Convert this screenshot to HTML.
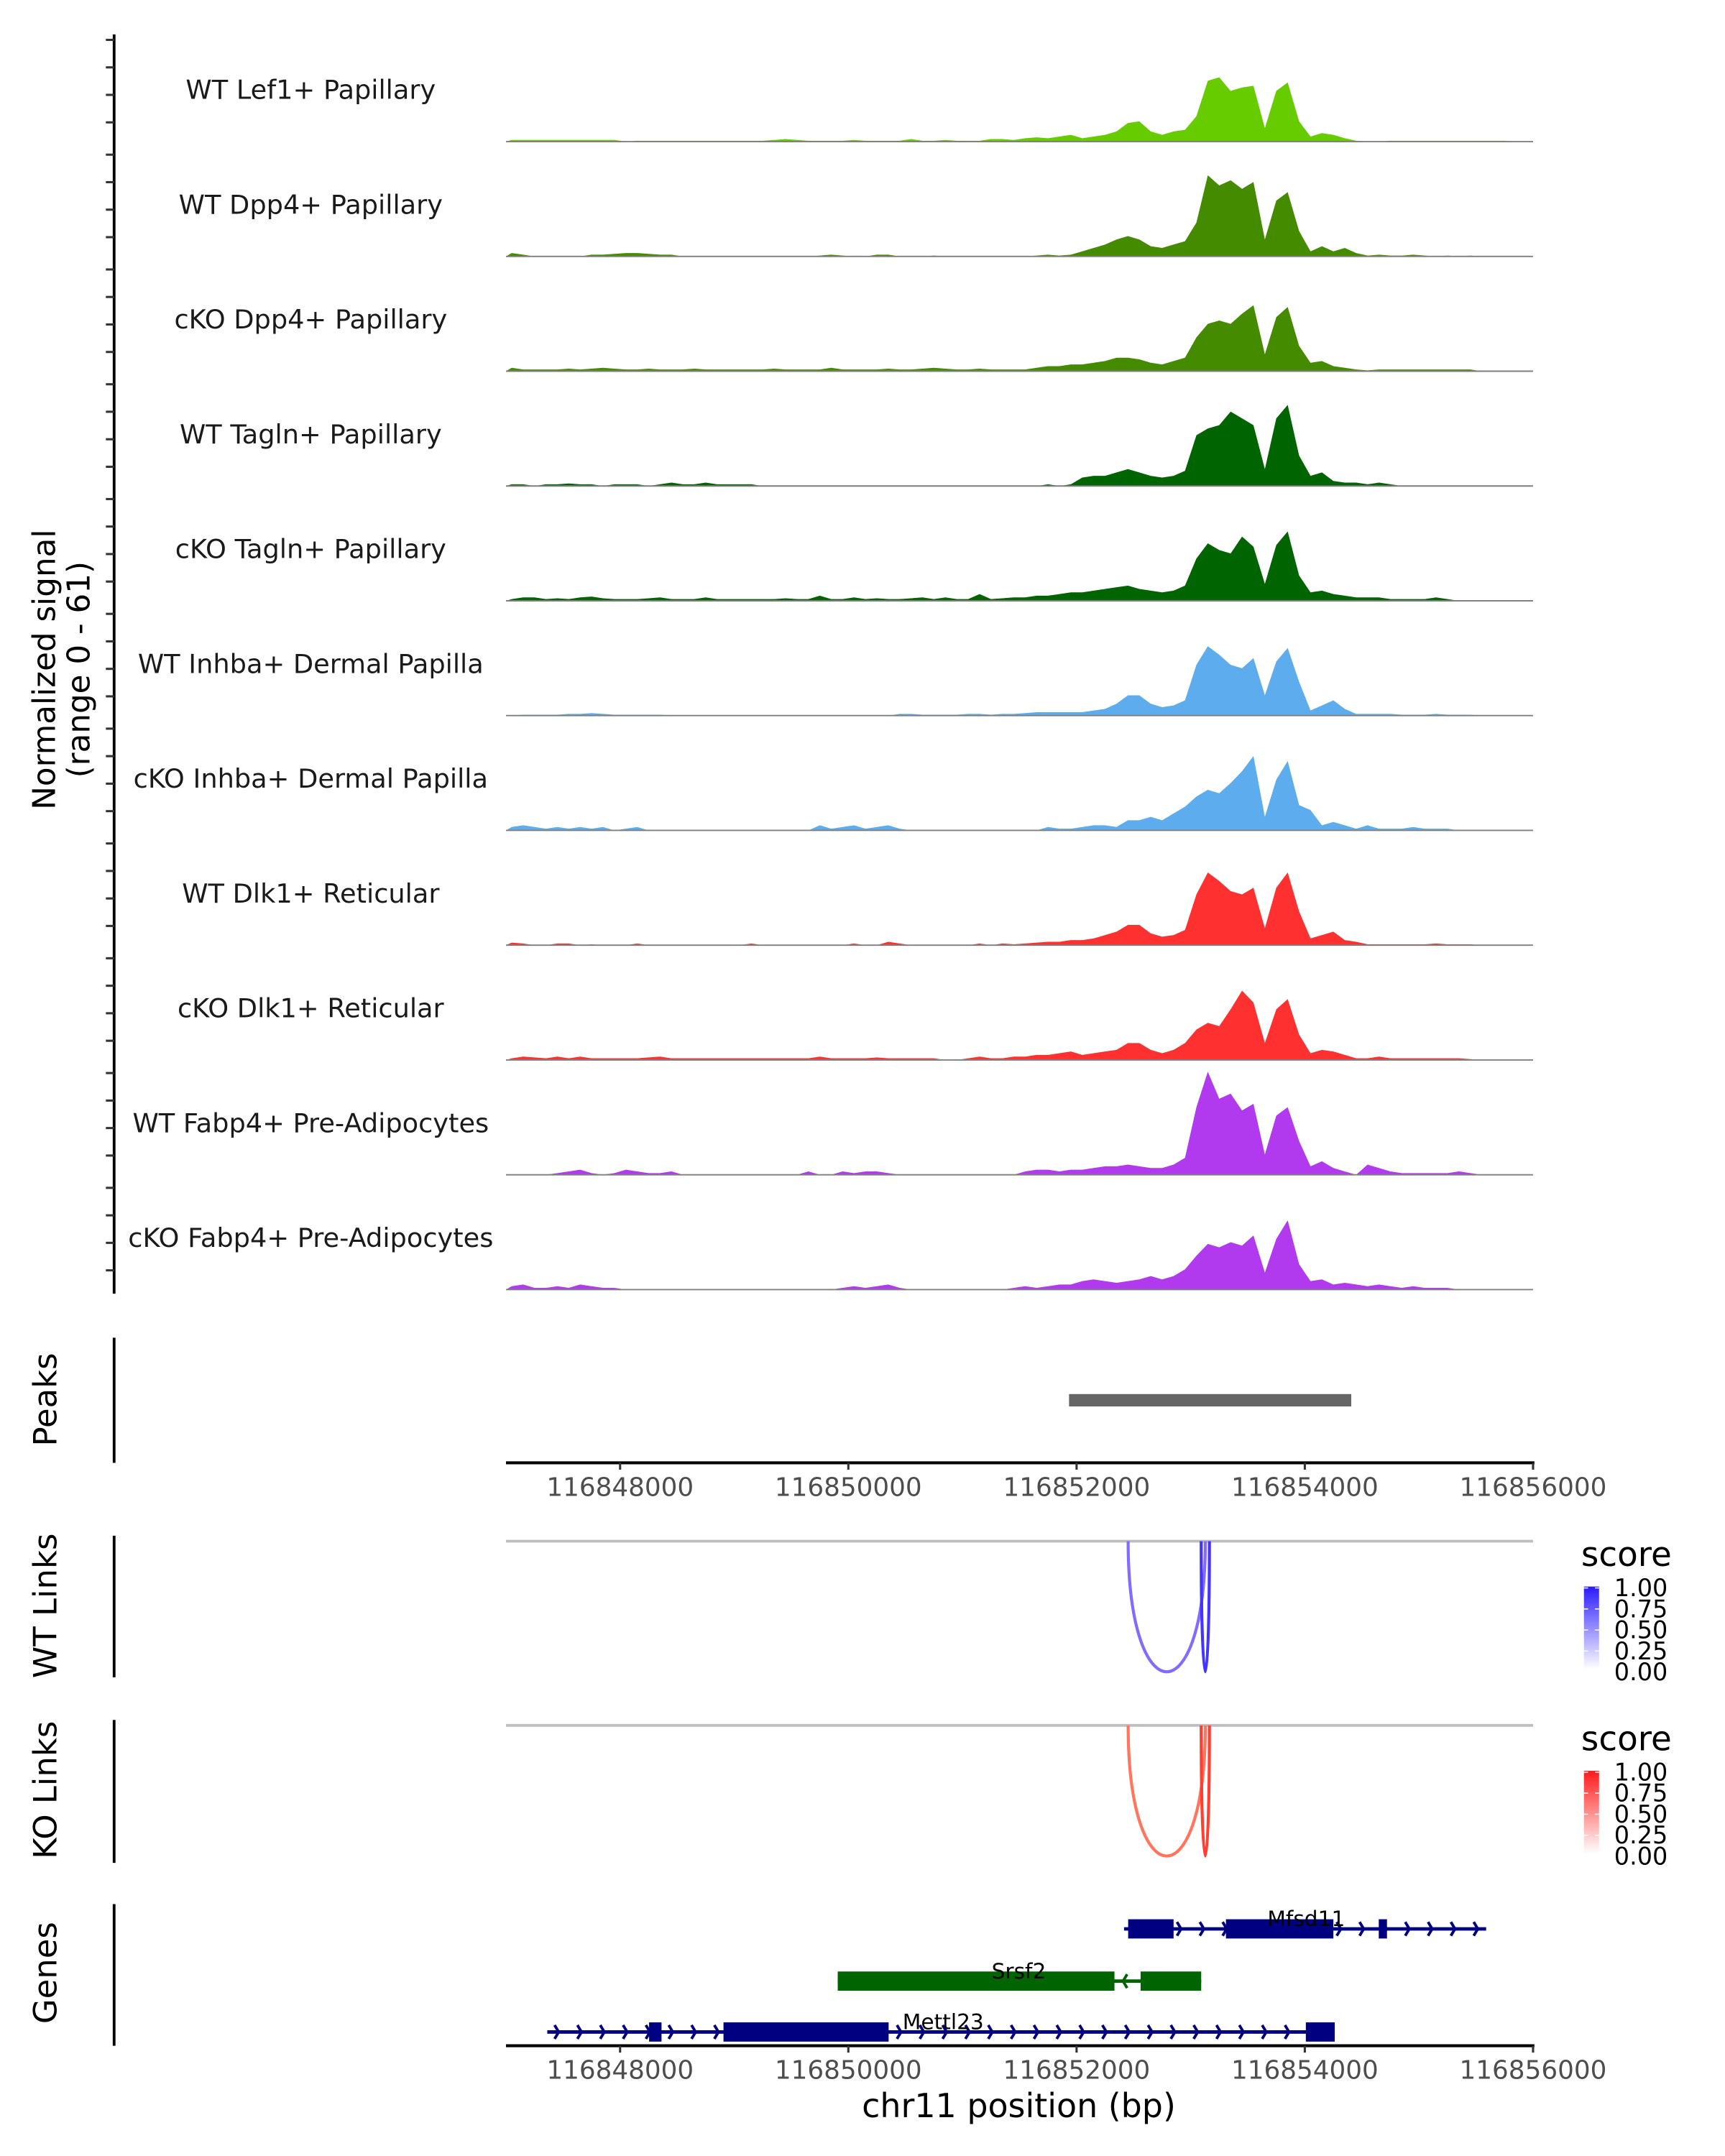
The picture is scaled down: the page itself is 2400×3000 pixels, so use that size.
<!DOCTYPE html>
<html><head><meta charset="utf-8">
<style>
html,body{margin:0;padding:0;background:#fff;}
svg{display:block;font-family:"DejaVu Sans","Liberation Sans",sans-serif;}
</style></head>
<body>
<svg id="chart" width="2400" height="3000" viewBox="0 0 1254.6 1568.2" preserveAspectRatio="none" xmlns="http://www.w3.org/2000/svg">
<defs>
<linearGradient id="gBlue" x1="0" y1="1" x2="0" y2="0"><stop offset="0" stop-color="#ffffff"/><stop offset="1" stop-color="#2a1aff"/></linearGradient>
<linearGradient id="gRed" x1="0" y1="1" x2="0" y2="0"><stop offset="0" stop-color="#ffffff"/><stop offset="1" stop-color="#ff1a1a"/></linearGradient>
</defs>
<g id="layer"></g>
</svg>
<script>
// ---- data ----
const regionStart = 116847000;
const regionEnd = 116856000;
const binSize = 100;
const xTicks = [116848000, 116850000, 116852000, 116854000, 116856000];
const trackNames = ["WT Lef1+ Papillary","WT Dpp4+ Papillary","cKO Dpp4+ Papillary","WT Tagln+ Papillary","cKO Tagln+ Papillary","WT Inhba+ Dermal Papilla","cKO Inhba+ Dermal Papilla","WT Dlk1+ Reticular","cKO Dlk1+ Reticular","WT Fabp4+ Pre-Adipocytes","cKO Fabp4+ Pre-Adipocytes"];
const trackColors = ["#66CC00","#458B00","#458B00","#006400","#006400","#5CACEE","#5CACEE","#FF3030","#FF3030","#B23AEE","#B23AEE"];
const yMax = 61;
const bg1 = [1,1,1,1,1,1,1,1,1,1,0,0.5,0.5,0.5,0.5,0.5,0.5,0.5,0.5,0.5,0.5,0.5,0.5,1,1.5,1,0.5,0.5,0.5,0.5,1,0.5,0.5,0.5,0.5,1.5,0.5,0.5,1,0.5,0.5,0.5,1.5,1.5,1,2,2.5,2,3,4];
const pk1 = [2,3,4,6,11,12,6,4,6,7,15,36,38,30,32,33,8,30,35,12,3,5,4,2,0.5,0,0,0.5,0.5,0.5,0.5,0.5,0.5,0.5,0.5,0.5,0.5,0.5,0,0];
const bg2 = [2,1,0,0,0,0,0,1,1,1.5,2,2,1.5,1,1,0,0,0,0,0,0,0,0,0,0,0,0,0.5,1,0.5,0,0,1,1,0,0,0,0.5,0,0,0,0,0,0,0,0,0.5,1,0.5,1];
const pk2 = [3,5,7,10,12,10,6,5,7,9,20,48,42,45,40,44,10,33,38,15,3,6,3,5,2,0.5,1,0.5,0.5,1,0.5,0,0.5,0,0.5,0,0,0,0,0];
const bg3 = [2,1,1,1,1,1.5,1,1.5,2,1.5,1,1,1.5,1,1,1,1.5,1,1,1,1,1,1,1.5,1,1,1,1,2,1,1,1,1,1.5,1,1,1.5,2,1.5,1,1,1.5,1,1,1,1,2,3,3,4];
const pk3 = [4,5,6,8,8,7,5,4,6,8,20,28,30,28,34,39,10,32,38,15,5,6,3,2,1,0.5,1,1,1,1,1,1,1,1,1,0,0,0,0,0];
const bg4 = [1,1,0,1,1,1.5,1,1,0,1,1,1,0,1,2,1,1,2,1,1,1,1,0,0,0,0,0,0,0,0,0,0,0,0,0,0,0,0,0,0,0,0,0,0,0,0,0,1,0,1];
const pk4 = [5,6,6,8,10,8,6,5,6,9,30,34,36,44,40,36,10,40,48,18,6,8,3,2,2,1,2,1,0,0,0,0,0,0,0,0,0,0,0,0];
const bg5 = [1,2,2,1,1.5,1,2,2.5,1.5,1,1,1,1.5,2,1,1,1,2,1,1,1,1,1,1,1.5,1,1,3,1,1,2,1,1.5,1,1,1.5,2,1,2,1,1,4,1,1.5,2,2,3,3,4,5];
const pk5 = [5,6,7,8,9,7,6,5,6,9,25,34,30,28,38,32,10,33,41,15,5,6,4,3,2,2,2,1,1,1,1,2,1,0,0,0,0,0,0,0];
const bg6 = [0,0.5,0.5,0.5,0.5,1,1,1.5,1,0.5,0.5,0.5,0.5,0.5,0,0,0,0,0,0,0,0,0,0,0,0,0,0,0,0,0,0,0,0,1,1,0.5,0.5,0.5,0.5,1,1,0.5,1,1,1.5,2,2,2,2];
const pk6 = [2,3,4,7,12,12,7,5,6,9,30,41,36,30,28,34,12,32,40,20,3,6,9,4,1,1,1,1,0.5,0.5,0.5,1,0.5,0.5,0.5,0,0,0,0,0];
const bg7 = [2,3,2,1,2,1,2,1,2,0,1,2,0,0,0,0,0,0,0,0,0,0,0,0,0,0,0,3,1,2,3,1,2,3,1,0,0,0,0,0,0,0,0,0,0,0,0,2,1,1];
const pk7 = [2,3,3,2,6,6,8,6,10,14,20,24,22,28,35,44,8,30,41,15,12,3,5,3,1,3,1,1,1,2,1,1,1,0,0,0,0,0,0,0];
const bg8 = [1.5,1,0,0,1,1,0,0.5,0,0,0,1,0,0,0,0,0,0,0,0,0,1,0,0,0,0,0,0,0,0,1,0,0,2,1,0,0,0,0,0,0,1,0,1,0.5,1,1.5,2,2,3];
const pk8 = [3,4,6,8,12,12,7,5,6,9,30,43,38,32,30,34,10,34,43,20,4,6,8,3,2,0.5,0.5,0.5,0.5,0.5,0.5,1,0.5,0.5,0.5,0,0,0,0,0];
const bg9 = [1,2,1.5,1,2,1,2,1,1,1,1,1,1.5,2,1,1,1,1,1,1,1,1,1,1,1,1,1,2,1,1,1,1,1.5,1,1,1,1,1,0,0,1,2,1,1,2,2,3,3,4,5];
const pk9 = [3,4,5,6,10,10,6,4,6,10,18,22,20,30,41,34,10,30,36,15,4,6,5,3,1,1,2,1,1,1,1,1,1,1,0.5,0,0,0,0,0];
const bg10 = [0,0,0,0,1,2,3,1,0,1,3,2,1,1,2,0,0,0,0,0,0,0,0,0,0,0,2,0,0,2,1,2,2,1,0,0,0,0,0,0,0,0,0,0,0,2,3,3,2,3];
const pk10 = [3,4,5,5,6,5,4,4,6,10,40,61,45,48,38,42,12,35,40,20,5,8,4,2,0,6,4,2,1,1,1,1,1,2,1,0,0,0,0,0];
const bg11 = [2,3,1,1,2,1,3,2,1,1,0,0,0,0,0,0,0,0,0,0,0,0,0,0,0,0,0,0,0,1,2,1,2,3,1,0,0,0,0,0,0,0,0,0,1,2,1,2,3,3];
const pk11 = [5,6,5,4,5,6,8,6,8,12,20,27,25,28,26,32,10,30,41,15,5,6,3,4,3,2,3,2,1,2,1,1,1,0,0,0,0,0,0,0];
const bgArrays = [bg1,bg2,bg3,bg4,bg5,bg6,bg7,bg8,bg9,bg10,bg11];
const pkArrays = [pk1,pk2,pk3,pk4,pk5,pk6,pk7,pk8,pk9,pk10,pk11];
const peakStart = [116851934];
const peakEnd = [116854407];
const wtLinkStart = [116852452, 116853092];
const wtLinkEnd = [116853128, 116853164];
const wtLinkScore = [0.5, 0.85];
const koLinkStart = [116852452, 116853092];
const koLinkEnd = [116853128, 116853164];
const koLinkScore = [0.5, 0.85];
const legendTicks = ["1.00","0.75","0.50","0.25","0.00"];
const geneNames = ["Mfsd11","Srsf2","Mettl23"];
const geneStart = [116852416, 116849907, 116847362];
const geneEnd = [116855589, 116853092, 116854262];
const geneStrand = [1, -1, 1];
const geneColor = ["#000080","#006400","#000080"];
const exonStarts = [[116852452,116853309,116854648],[116849907,116852561],[116848254,116848906,116854009]];
const exonEnds = [[116852850,116854250,116854720],[116852332,116853092],[116848363,116850353,116854262]];

// ---- scales ----
const X0 = 368, X1 = 1115;
function xs(bp){ return X0 + (bp - regionStart) / (regionEnd - regionStart) * (X1 - X0); }
const NS = "http://www.w3.org/2000/svg";
const layer = document.getElementById('layer');
function mk(tag, attrs, parent){ const e = document.createElementNS(NS, tag); for (const k in attrs) e.setAttribute(k, attrs[k]); (parent||layer).appendChild(e); return e; }

// ---- coverage tracks ----
const base0 = 103, trackGap = 83.5, pxPerUnit = 75 / yMax;
mk('line',{x1:83,y1:25,x2:83,y2:941,stroke:'#000','stroke-width':2});
const yAxis = layer.lastChild;


for (let i = 0; i < trackNames.length; i++) {
  const b = base0 + i * trackGap;
  const vals = bgArrays[i].concat(pkArrays[i]);
  let d = 'M' + xs(regionStart).toFixed(2) + ',' + b;
  for (let j = 0; j < vals.length; j++) {
    const x = xs(regionStart + binSize * j + binSize / 2);
    d += ' L' + x.toFixed(2) + ',' + (b - vals[j] * pxPerUnit).toFixed(2);
  }
  d += ' L' + xs(regionEnd).toFixed(2) + ',' + b + ' Z';
  const p = mk('path',{d:d, fill:trackColors[i]});
  
  
  const bl = mk('line',{x1:X0,y1:b,x2:X1,y2:b,stroke:'#7f7f7f','stroke-width':1});
  
  
  const t = mk('text',{x:226,y:b-31,'text-anchor':'middle','font-size':19.2,fill:'#1a1a1a'});
  t.textContent = trackNames[i];
  
  
  const tickOffs = [80, 60, 40, 20];
  for (const o of tickOffs) {
    const tk = mk('line',{x1:77,y1:b-o+6,x2:83,y2:b-o+6,stroke:'#333','stroke-width':1.6});
    
    
  }
}
const yl = mk('text',{transform:'translate(40,487) rotate(-90)','text-anchor':'middle','font-size':22.8,fill:'#000'});


const ts1 = mk('tspan',{x:0,y:0},yl); ts1.textContent = 'Normalized signal';
const ts2 = mk('tspan',{x:0,y:25},yl); ts2.textContent = '(range 0 - 61)';

// ---- side labels ----
function sideLabel(txt, y, y1, y2, name){
  const t = mk('text',{transform:'translate(41,'+y+') rotate(-90)','text-anchor':'middle','font-size':23.5,fill:'#000'});
  t.textContent = txt;
  
  
  const l = mk('line',{x1:83,y1:y1,x2:83,y2:y2,stroke:'#000','stroke-width':2});
  
  
}
sideLabel('Peaks', 1018, 973, 1064, 'peaks-label');
sideLabel('WT Links', 1168, 1117, 1220, 'wt-links-label');
sideLabel('KO Links', 1302, 1251, 1355, 'ko-links-label');
sideLabel('Genes', 1435, 1385, 1488, 'genes-label');

// ---- peaks ----
for (let i = 0; i < peakStart.length; i++) {
  const r = mk('rect',{x:xs(peakStart[i]),y:1014,width:xs(peakEnd[i])-xs(peakStart[i]),height:9,fill:'#666666'});
  
  
}

// ---- x axes ----
function xAxis(y, name){
  const l = mk('line',{x1:X0,y1:y,x2:X1+1,y2:y,stroke:'#000','stroke-width':2.2});
  
  
  for (const t of xTicks) {
    const tk = mk('line',{x1:xs(t),y1:y,x2:xs(t),y2:y+5,stroke:'#333','stroke-width':1.6});
    
    
    const tl = mk('text',{x:xs(t),y:y+24,'text-anchor':'middle','font-size':18.7,fill:'#4d4d4d'});
    tl.textContent = String(t);
    
    
  }
}
xAxis(1064, 'peaks-x-axis');
xAxis(1488, 'genes-x-axis');
const xt = mk('text',{x:741,y:1540,'text-anchor':'middle','font-size':24,fill:'#000'});
xt.textContent = 'chr11 position (bp)';



// ---- links ----
function links(top, bottom, starts, ends, scores, colHi, grad, name){
  const gl = mk('line',{x1:X0,y1:top,x2:X1,y2:top,stroke:'#bebebe','stroke-width':2});
  
  
  for (let i = 0; i < starts.length; i++) {
    const a = xs(starts[i]), b = xs(ends[i]);
    const yc = top + (bottom - top) / 0.75;
    const c = colHi(scores[i]);
    const p = mk('path',{d:'M'+a+','+top+' C'+a+','+yc+' '+b+','+yc+' '+b+','+top,fill:'none',stroke:c,'stroke-width':2.2});
    
    
  }
  const ly = top + 11;
  const st = mk('text',{x:1150,y:ly+7,'font-size':24.5,fill:'#000'});
  st.textContent = 'score';
  
  
  const bar = mk('rect',{x:1152,y:ly+22,width:11,height:60,fill:'url(#'+grad+')'});
  
  
  for (let k = 0; k < legendTicks.length; k++) {
    const yy = ly + 23 + k * 15.3;
    const tx = mk('text',{x:1174,y:yy+6,'font-size':17.5,fill:'#000'});
    tx.textContent = legendTicks[k];
    
    
    mk('line',{x1:1152,y1:yy,x2:1155,y2:yy,stroke:'#fff','stroke-width':0.8});
    mk('line',{x1:1160,y1:yy,x2:1163,y2:yy,stroke:'#fff','stroke-width':0.8});
  }
}
function blueCol(s){ const v = Math.round(255*(1-s)); return 'rgb('+Math.round(v*0.7+40)+','+Math.round(v*0.6+30)+',255)'; }
function redCol(s){ const v = Math.round(255*(1-s)); return 'rgb(255,'+Math.round(v*0.6+40)+','+Math.round(v*0.5+30)+')'; }
links(1121, 1216, wtLinkStart, wtLinkEnd, wtLinkScore, blueCol, 'gBlue', 'wt-links');
links(1255, 1350, koLinkStart, koLinkEnd, koLinkScore, redCol, 'gRed', 'ko-links');

// ---- genes ----
const geneY = [1403, 1441, 1478];
for (let g = 0; g < geneNames.length; g++) {
  const y = geneY[g], col = geneColor[g];
  const gg = mk('g',{});
  
  
  mk('line',{x1:xs(geneStart[g]),y1:y,x2:xs(geneEnd[g]),y2:y,stroke:col,'stroke-width':2.5},gg);
  for (let bp = geneStart[g] + 100; bp < geneEnd[g]; bp += 200) {
    const x = xs(bp), dir = geneStrand[g];
    mk('polyline',{points:(x-3*dir)+','+(y-5)+' '+x+','+y+' '+(x-3*dir)+','+(y+5),fill:'none',stroke:col,'stroke-width':2},gg);
  }
  for (let e = 0; e < exonStarts[g].length; e++) {
    mk('rect',{x:xs(exonStarts[g][e]),y:y-7,width:xs(exonEnds[g][e])-xs(exonStarts[g][e]),height:14,fill:col},gg);
  }
  const lx = g === 0 ? 950 : (g === 1 ? 741 : 686);
  const gt = mk('text',{x:lx,y:y-2,'text-anchor':'middle','font-size':15.5,fill:'#000'});
  gt.textContent = geneNames[g];
  
  
}
</script>
</body></html>
